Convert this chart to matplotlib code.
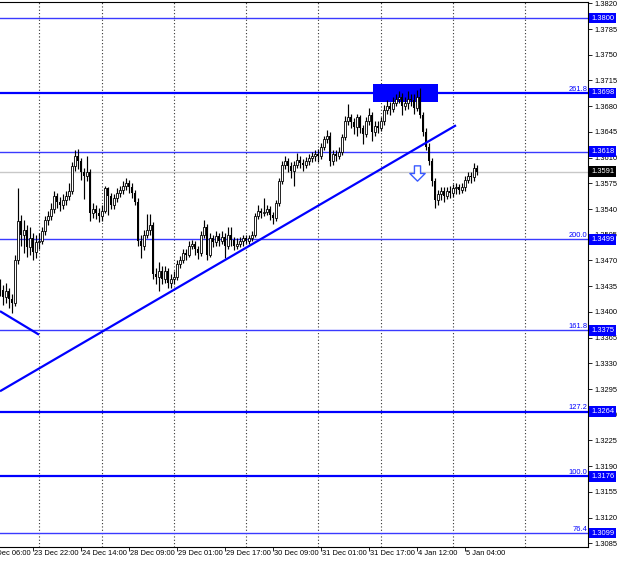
import matplotlib
matplotlib.use("Agg")
import matplotlib.pyplot as plt
import numpy as np
from matplotlib.path import Path
from matplotlib.transforms import blended_transform_factory

# H1 bars: (day label, first hour, number of bars)
days = [("23 Dec", 11, 13), ("24 Dec", 0, 21), ("28 Dec", 0, 24), ("29 Dec", 0, 24),
        ("30 Dec", 0, 24), ("31 Dec", 0, 21), ("4 Jan", 0, 24), ("5 Jan", 0, 9)]

first_open = 1.3438
closes = [
    1.3430, 1.3420, 1.3428, 1.3418, 1.3412, 1.3470, 1.3524, 1.3505, 1.3512, 1.3488,
    1.3500, 1.3482, 1.3495, 1.3497, 1.3510, 1.3525, 1.3530, 1.3540, 1.3558, 1.3550,
    1.3545, 1.3552, 1.3558, 1.3565, 1.3598, 1.3612, 1.3605, 1.3590, 1.3585, 1.3590,
    1.3535, 1.3540, 1.3534, 1.3530, 1.3538, 1.3568, 1.3558, 1.3545, 1.3555, 1.3562,
    1.3566, 1.3572, 1.3575, 1.3570, 1.3562, 1.3550, 1.3496, 1.3490, 1.3505, 1.3512,
    1.3518, 1.3452, 1.3448, 1.3455, 1.3445, 1.3455, 1.3440, 1.3445, 1.3448, 1.3465,
    1.3470, 1.3480, 1.3478, 1.3490, 1.3492, 1.3485, 1.3480, 1.3505, 1.3515, 1.3478,
    1.3500, 1.3495, 1.3503, 1.3497, 1.3502, 1.3490, 1.3505, 1.3498, 1.3490, 1.3493,
    1.3496, 1.3500, 1.3497, 1.3500, 1.3505, 1.3530, 1.3538, 1.3535, 1.3536, 1.3540,
    1.3532, 1.3528, 1.3548, 1.3578, 1.3600, 1.3606, 1.3598, 1.3592, 1.3600, 1.3607,
    1.3603, 1.3600, 1.3605, 1.3610, 1.3612, 1.3615, 1.3612, 1.3625, 1.3635, 1.3640,
    1.3605, 1.3615, 1.3612, 1.3618, 1.3638, 1.3660, 1.3665, 1.3658, 1.3652, 1.3665,
    1.3650, 1.3642, 1.3660, 1.3668, 1.3645, 1.3653, 1.3650, 1.3660, 1.3675, 1.3680,
    1.3676, 1.3685, 1.3690, 1.3693, 1.3680, 1.3685, 1.3690, 1.3688, 1.3678, 1.3692,
    1.3668, 1.3645, 1.3625, 1.3606, 1.3578, 1.3552, 1.3560, 1.3565, 1.3558, 1.3565,
    1.3562, 1.3568, 1.3570, 1.3566, 1.3570, 1.3580, 1.3585, 1.3583, 1.3596, 1.3591,
]
highs = [
    1.3445, 1.3436, 1.3440, 1.3432, 1.3425, 1.3478, 1.3569, 1.3532, 1.3525, 1.3518,
    1.3515, 1.3508, 1.3505, 1.3508, 1.3516, 1.3530, 1.3538, 1.3548, 1.3565, 1.3562,
    1.3556, 1.3560, 1.3565, 1.3575, 1.3604, 1.3620, 1.3622, 1.3610, 1.3596, 1.3612,
    1.3594, 1.3548, 1.3546, 1.3542, 1.3545, 1.3572, 1.3570, 1.3562, 1.3560, 1.3568,
    1.3572, 1.3578, 1.3582, 1.3580, 1.3575, 1.3566, 1.3555, 1.3505, 1.3512, 1.3533,
    1.3533, 1.3522, 1.3460, 1.3468, 1.3462, 1.3462, 1.3460, 1.3452, 1.3455, 1.3470,
    1.3476, 1.3485, 1.3486, 1.3496, 1.3498, 1.3496, 1.3490, 1.3510, 1.3525, 1.3520,
    1.3508, 1.3505, 1.3510, 1.3508, 1.3510, 1.3508, 1.3515, 1.3516, 1.3502, 1.3500,
    1.3502, 1.3505, 1.3504, 1.3505, 1.3510, 1.3535, 1.3545, 1.3542, 1.3555, 1.3546,
    1.3544, 1.3536, 1.3552, 1.3582, 1.3605, 1.3612, 1.3610, 1.3604, 1.3606, 1.3616,
    1.3612, 1.3608, 1.3611, 1.3615, 1.3618, 1.3621, 1.3622, 1.3630, 1.3640, 1.3648,
    1.3645, 1.3620, 1.3620, 1.3624, 1.3642, 1.3666, 1.3683, 1.3670, 1.3664, 1.3670,
    1.3668, 1.3655, 1.3665, 1.3678, 1.3672, 1.3660, 1.3660, 1.3665, 1.3682, 1.3688,
    1.3686, 1.3692, 1.3697, 1.3700, 1.3698, 1.3692, 1.3700, 1.3696, 1.3697, 1.3702,
    1.3705, 1.3672, 1.3650, 1.3630, 1.3610, 1.3582, 1.3566, 1.3570, 1.3570, 1.3570,
    1.3572, 1.3574, 1.3576, 1.3574, 1.3576, 1.3585, 1.3590, 1.3590, 1.3602, 1.3600,
]
lows = [
    1.3422, 1.3410, 1.3412, 1.3405, 1.3398, 1.3408, 1.3465, 1.3490, 1.3480, 1.3475,
    1.3478, 1.3470, 1.3473, 1.3485, 1.3492, 1.3505, 1.3518, 1.3525, 1.3535, 1.3542,
    1.3538, 1.3540, 1.3546, 1.3552, 1.3560, 1.3592, 1.3595, 1.3580, 1.3554, 1.3578,
    1.3524, 1.3528, 1.3526, 1.3522, 1.3524, 1.3534, 1.3532, 1.3540, 1.3540, 1.3550,
    1.3556, 1.3560, 1.3566, 1.3562, 1.3555, 1.3545, 1.3490, 1.3473, 1.3484, 1.3500,
    1.3505, 1.3445, 1.3438, 1.3428, 1.3438, 1.3440, 1.3432, 1.3432, 1.3438, 1.3444,
    1.3460, 1.3466, 1.3470, 1.3475, 1.3485, 1.3478, 1.3472, 1.3476, 1.3500, 1.3470,
    1.3475, 1.3488, 1.3490, 1.3490, 1.3492, 1.3473, 1.3486, 1.3490, 1.3484, 1.3485,
    1.3488, 1.3490, 1.3492, 1.3493, 1.3496, 1.3502, 1.3526, 1.3528, 1.3530, 1.3532,
    1.3525, 1.3520, 1.3524, 1.3544, 1.3574, 1.3594, 1.3590, 1.3582, 1.3571, 1.3596,
    1.3596, 1.3592, 1.3596, 1.3600, 1.3604, 1.3606, 1.3604, 1.3608, 1.3620, 1.3630,
    1.3598, 1.3600, 1.3606, 1.3608, 1.3614, 1.3634, 1.3654, 1.3650, 1.3642, 1.3640,
    1.3644, 1.3628, 1.3638, 1.3655, 1.3632, 1.3640, 1.3644, 1.3646, 1.3655, 1.3670,
    1.3668, 1.3672, 1.3680, 1.3684, 1.3668, 1.3675, 1.3676, 1.3680, 1.3670, 1.3674,
    1.3664, 1.3640, 1.3620, 1.3600, 1.3572, 1.3541, 1.3545, 1.3552, 1.3550, 1.3553,
    1.3555, 1.3556, 1.3560, 1.3560, 1.3562, 1.3565, 1.3575, 1.3576, 1.3578, 1.3586,
]

current_price = 1.3591
levels = [1.3800, 1.3698, 1.3618, 1.3499, 1.3375, 1.3264, 1.3176, 1.3099]
level_thick = [False, True, False, False, False, True, True, False]
fibo_labels = {1.3698: "261.8", 1.3499: "200.0", 1.3375: "161.8",
               1.3264: "127.2", 1.3176: "100.0", 1.3099: "76.4"}

# drawn objects anchored in (bar, price)
trend_long = [(0, 1.3292), (152, 1.3654)]
trend_short = [(0, 1.3401), (13, 1.3369)]
box_bars = (124.3, 146.0)
box_prices = (1.3686, 1.3710)
arrow_at = (139, 1.3589)

BLUE = "#0000ff"
FONT = "Liberation Sans"

# bar index -> time labels
bar_day, bar_hour, day_starts = [], [], []
for name, h0, nb in days:
    day_starts.append(len(bar_day))
    for h in range(h0, h0 + nb):
        bar_day.append(name)
        bar_hour.append(h)
day_starts.append(day_starts[-1] + 24)  # next day grid (empty area)


def time_label(i):
    if i < 0:
        return "%s %02d:00" % (days[0][0], days[0][1] + i)
    return "%s %02d:00" % (bar_day[i], bar_hour[i])


closes = np.array(closes)
highs = np.array(highs)
lows = np.array(lows)
opens = np.concatenate([[first_open], closes[:-1]])
idx = np.arange(len(closes))

fig = plt.figure(figsize=(6.2, 5.63), dpi=100)
ax = fig.add_axes([0, 16.3 / 563, 588 / 620, 544.7 / 563])
ax.set_xlim(0, 196)
ax.set_ylim(1.30804, 1.38218)

# day separators
for d in day_starts[1:]:
    ax.axvline(d, color="#333333", lw=0.8, ls=(0, (1, 2)), zorder=1)

# levels
for lv, thick in zip(levels, level_thick):
    ax.axhline(lv, color=BLUE if thick else "#3a3aff", lw=1.6 if thick else 1.0, zorder=2)
ax.axhline(current_price, color="#c8c8c8", lw=1.0, zorder=1.5)

# rectangle
ax.fill_between(box_bars, box_prices[0], box_prices[1], color=BLUE, lw=0, zorder=2.5)

# trend lines
for tl in (trend_long, trend_short):
    ax.plot([p[0] for p in tl], [p[1] for p in tl], color=BLUE, lw=1.6, zorder=5,
            solid_capstyle="butt")

# candles
up = closes >= opens
body_lo = np.minimum(opens, closes)
body_h = np.maximum(np.abs(closes - opens), 0.00006)
ax.vlines(idx, lows, highs, color="black", lw=0.85, zorder=3)
ax.bar(idx[up], body_h[up], bottom=body_lo[up], width=0.75, facecolor="white",
       edgecolor="black", lw=0.6, zorder=4)
ax.bar(idx[~up], body_h[~up], bottom=body_lo[~up], width=0.75, color="black", lw=0, zorder=4)

# hollow down arrow
arrow_path = Path([(-0.22, 0.55), (0.22, 0.55), (0.22, 0.0), (0.55, 0.0), (0.0, -0.55),
                   (-0.55, 0.0), (-0.22, 0.0), (-0.22, 0.55)],
                  [Path.MOVETO] + [Path.LINETO] * 6 + [Path.CLOSEPOLY])
ax.plot([arrow_at[0]], [arrow_at[1]], marker=arrow_path, ms=11, mfc="white",
        mec="#3a5aff", mew=1.0, zorder=6)

# spines / axes
ax.spines["left"].set_visible(False)
for s in ("top", "right", "bottom"):
    ax.spines[s].set_color("black")
    ax.spines[s].set_linewidth(0.8)

yt = np.round(1.3085 + 0.0035 * np.arange(22), 4)
ax.yaxis.tick_right()
ax.set_yticks(yt)
ax.set_yticklabels(["%.4f" % v for v in yt], fontsize=5.4, family=FONT)
ax.tick_params(axis="y", length=3, width=0.6, pad=1.5, direction="out")

xt = list(range(11, len(closes), 16))
ax.set_xticks(xt)
ax.set_xticklabels([])
ax.tick_params(axis="x", length=3, width=0.6, direction="out")
xtr = blended_transform_factory(ax.transData, ax.transAxes)
for i in [xt[0] - 16] + xt:
    ax.text(i + 0.35, -0.006, time_label(i), transform=xtr, ha="left", va="top",
            fontsize=5.4, family=FONT, color="black", clip_on=False)

# fibo labels and price tags
ytr = blended_transform_factory(ax.transAxes, ax.transData)
for lv, txt in fibo_labels.items():
    ax.text(0.999, lv + 0.00005, txt, transform=ytr, ha="right", va="bottom",
            fontsize=5.4, family=FONT, color=BLUE, zorder=7)
for lv in levels:
    ax.text(1.0 + 3 / 588, lv, "%.4f" % lv, transform=ytr, ha="left", va="center",
            fontsize=5.4, family=FONT, color="white", zorder=8, clip_on=False,
            bbox=dict(boxstyle="square,pad=0.25", fc=BLUE, ec="none"))
ax.text(1.0 + 3 / 588, current_price, "%.4f" % current_price, transform=ytr, ha="left",
        va="center", fontsize=5.4, family=FONT, color="white", zorder=8, clip_on=False,
        bbox=dict(boxstyle="square,pad=0.25", fc="black", ec="none"))

fig.savefig("out.png", dpi=100)
